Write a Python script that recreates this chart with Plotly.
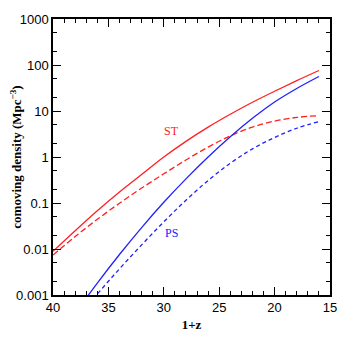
import plotly.graph_objects as go

# 1+z grid
one_plus_z = [40, 38, 36, 34, 32, 30, 28, 26, 24, 22, 20, 18, 16]

# comoving density (Mpc^-3)
st_solid = [0.0089, 0.025, 0.068, 0.174, 0.417, 1.0, 2.19, 4.47, 8.51, 15.5, 26.9, 45.7, 75.9]
st_dashed = [0.0074, 0.0186, 0.0442, 0.0989, 0.211, 0.431, 0.861, 1.64, 2.88, 4.47, 6.03, 7.24, 7.94]
ps_solid = [None, 0.0004, 0.00182, 0.00759, 0.0292, 0.1035, 0.335, 1.0, 2.75, 6.92, 15.7, 30.9, 56.2]
ps_dashed = [None, 0.00028, 0.00105, 0.0037, 0.0123, 0.0389, 0.115, 0.309, 0.733, 1.50, 2.66, 4.22, 5.89]

y_tickvals = [0.001, 0.01, 0.1, 1, 10, 100, 1000]
y_ticktext = ["0.001", "0.01", "0.1", "1", "10", "100", "1000"]

RED = "#ff2020"
BLUE = "#2020ff"
SERIF = "Liberation Serif, Times New Roman, serif"
SANS = "Liberation Sans, Arial, sans-serif"

fig = go.Figure()

series = [
    (st_solid, RED, "solid"),
    (st_dashed, RED, "6px,3px"),
    (ps_solid, BLUE, "solid"),
    (ps_dashed, BLUE, "4px,3px"),
]
for vals, color, dash in series:
    fig.add_trace(
        go.Scatter(
            x=one_plus_z,
            y=vals,
            mode="lines",
            line=dict(color=color, width=1.3, dash=dash, shape="spline"),
            showlegend=False,
        )
    )

axis_common = dict(
    automargin=False,
    showline=True,
    linecolor="black",
    linewidth=1.5,
    mirror="allticks",
    ticks="inside",
    ticklen=8,
    tickwidth=1.2,
    tickcolor="black",
    showgrid=False,
    zeroline=False,
    tickfont=dict(family=SANS, size=13, color="black"),
)

fig.update_xaxes(
    range=[40, 15],
    tickmode="linear",
    tick0=15,
    dtick=5,
    minor=dict(ticks="inside", ticklen=4, tickwidth=1, tickcolor="black", dtick=1),
    title=dict(
        text="<b>1+z</b>",
        font=dict(family=SERIF, size=13, color="black"),
        standoff=6,
    ),
    **axis_common,
)
fig.update_yaxes(
    type="log",
    range=[-3, 3],
    tickvals=y_tickvals,
    ticktext=y_ticktext,
    minor=dict(ticks="inside", ticklen=4, tickwidth=1, tickcolor="black"),
    title=dict(
        text="<b>comoving density (Mpc<sup>−3</sup>)</b>",
        font=dict(family=SERIF, size=13, color="black"),
        standoff=2,
    ),
    **axis_common,
)

fig.add_annotation(
    x=29.3, y=0.568, text="ST", showarrow=False,
    font=dict(family=SERIF, size=12, color=RED),
)
fig.add_annotation(
    x=29.3, y=-1.646, text="PS", showarrow=False,
    font=dict(family=SERIF, size=12, color=BLUE),
)

# the page body has an 8px default margin, so the figure is shrunk by that much
fig.update_layout(
    width=341,
    height=341,
    margin=dict(l=45, r=19, t=11, b=54),
    paper_bgcolor="white",
    plot_bgcolor="white",
)

fig.write_html("out.html")
